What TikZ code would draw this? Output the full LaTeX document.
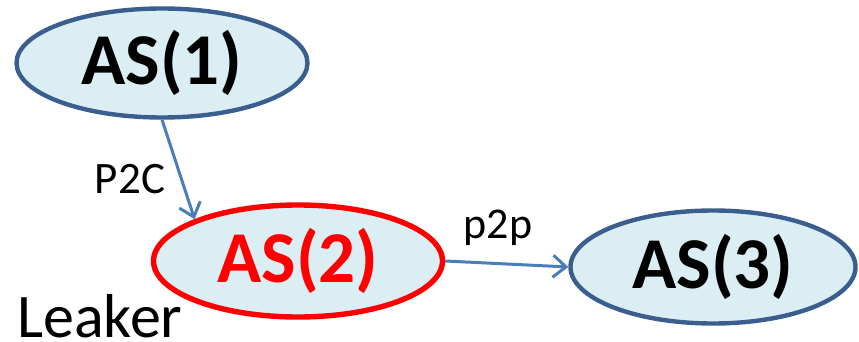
\documentclass[tikz,border=0pt]{standalone}
\usepackage{fontspec}
\setmainfont{Carlito}
\usetikzlibrary{shapes.geometric,arrows.meta}
\definecolor{asfill}{HTML}{DBEEF4}
\definecolor{asline}{HTML}{3A5F8E}
\definecolor{linkblue}{HTML}{4A7EBB}
\definecolor{leakred}{HTML}{FF0000}
\tikzset{
  asnode/.style={ellipse, draw=asline, fill=asfill, line width=4.4pt, inner sep=0pt,
    font=\fontsize{73}{80}\selectfont\bfseries},
  leaknode/.style={asnode, draw=leakred, text=leakred, line width=5.4pt},
  link/.style={draw=linkblue, line width=3pt,
    -{Straight Barb[length=13pt,width=22pt,line width=3pt]}},
  linklabel/.style={inner sep=0pt, anchor=base, font=\fontsize{45}{50}\selectfont},
}
\begin{document}
\begin{tikzpicture}[x=1pt,y=-1pt]
  \useasboundingbox (0,0) rectangle (859,342);
  % autonomous systems
  \node[asnode, minimum width=291pt, minimum height=109pt] (as1) at (162,63) {AS(1)};
  \node[leaknode, minimum width=289pt, minimum height=112pt] (as2) at (298,261) {AS(2)};
  \node[asnode, minimum width=285pt, minimum height=113pt] (as3) at (713,267) {AS(3)};
  % relationships
  \draw[link] (as1.south) -- (as2.158);
  \draw[link] (as2.east) -- (as3.west);
  \node[linklabel] (p2c) at (130,193) {P2C};
  \node[linklabel, font=\fontsize{44}{50}\selectfont] (p2p) at (498,238) {p2p};
  \node[inner sep=0pt, anchor=base west, font=\fontsize{62}{70}\selectfont] (leaker) at (17,337) {Leaker};
\end{tikzpicture}
\end{document}
